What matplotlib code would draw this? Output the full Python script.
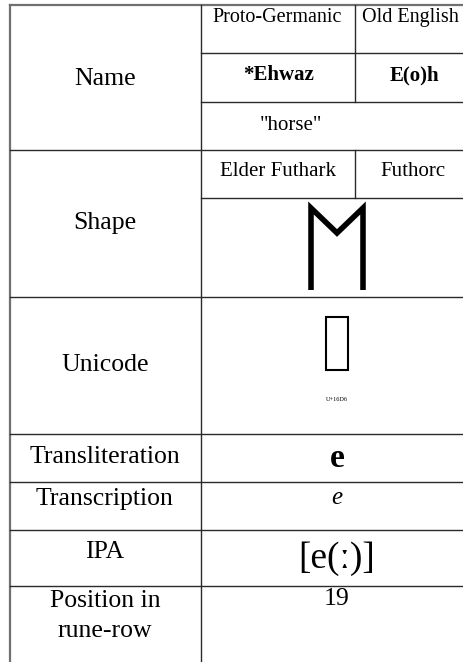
import matplotlib.pyplot as plt
from matplotlib.patches import Rectangle

# table content
row_labels = ["Name", "Shape", "Unicode", "Transliteration", "Transcription", "IPA", "Position in\nrune-row"]
name_headers = ["Proto-Germanic", "Old English"]
name_values = ["*Ehwaz", "E(o)h"]
meaning = '"horse"'
shape_headers = ["Elder Futhark", "Futhorc"]
unicode_code = "U+16D6"
translit = "e"
transcr = "e"
ipa = "[e(ː)]"
position = "19"

W, H = 464, 662
fig = plt.figure(figsize=(W / 100, H / 100), dpi=100)
ax = fig.add_axes([0, 0, 1, 1])
ax.set_xlim(0, W)
ax.set_ylim(H, 0)
ax.axis("off")

serif = "Liberation Serif"
lc = "#2a2a2a"

# grid lines
x0, x1, x2, xr = 10, 201, 355, 473
row_edges = [6, 150, 297, 434, 482, 530, 586]
ax.plot([x0, x0], [5, H], color="#707070", lw=1.6)
ax.plot([x0, xr], [5, 5], color="#707070", lw=1.6)
for y in row_edges[1:]:
    ax.plot([x0, xr], [y, y], color=lc, lw=1.0)
for y in [53, 102, 198]:
    ax.plot([x1, xr], [y, y], color=lc, lw=1.0)
ax.plot([x1, x1], [5, H], color=lc, lw=1.0)
ax.plot([x2, x2], [5, 102], color=lc, lw=1.0)
ax.plot([x2, x2], [150, 198], color=lc, lw=1.0)

# row labels (baselines)
label_base = [85, 229, 371, 463, 505, 558, [607, 637]]
for lab, yb in zip(row_labels, label_base):
    lines = lab.split("\n")
    ys = yb if isinstance(yb, list) else [yb]
    for ln, y in zip(lines, ys):
        ax.text(105, y, ln, ha="center", va="baseline", family=serif, fontsize=18.5)

# Name block
for txt, x in zip(name_headers, [277, 410]):
    ax.text(x, 22, txt, ha="center", va="baseline", family=serif, fontsize=14.5)
for txt, x in zip(name_values, [279, 414]):
    ax.text(x, 80, txt, ha="center", va="baseline", family=serif, fontsize=15,
            weight="bold")
ax.text(291, 130, meaning, ha="center", va="baseline", family=serif, fontsize=15)

# Shape block
for txt, x in zip(shape_headers, [278, 413]):
    ax.text(x, 176, txt, ha="center", va="baseline", family=serif, fontsize=15)
# the rune (no installed font has the Runic block, so draw the glyph)
ax.plot([311, 311, 337, 363, 363], [290, 208, 233, 208, 290], color="black",
        lw=4.0, solid_joinstyle="miter", solid_capstyle="butt")

# Unicode block (missing glyph box, as in the reference)
ax.add_patch(Rectangle((326, 317), 22, 53, fill=False, ec="black", lw=1.5))
ax.text(337, 401, unicode_code, ha="center", va="baseline", family=serif, fontsize=4.5)

ax.text(337, 467, translit, ha="center", va="baseline", family=serif, fontsize=24,
        weight="bold")
ax.text(337, 504, transcr, ha="center", va="baseline", family=serif, fontsize=18,
        style="italic")
ax.text(337, 568, ipa, ha="center", va="baseline", family=serif, fontsize=27)
ax.text(337, 605, position, ha="center", va="baseline", family=serif, fontsize=18.5)

fig.savefig("out.png", dpi=100)
